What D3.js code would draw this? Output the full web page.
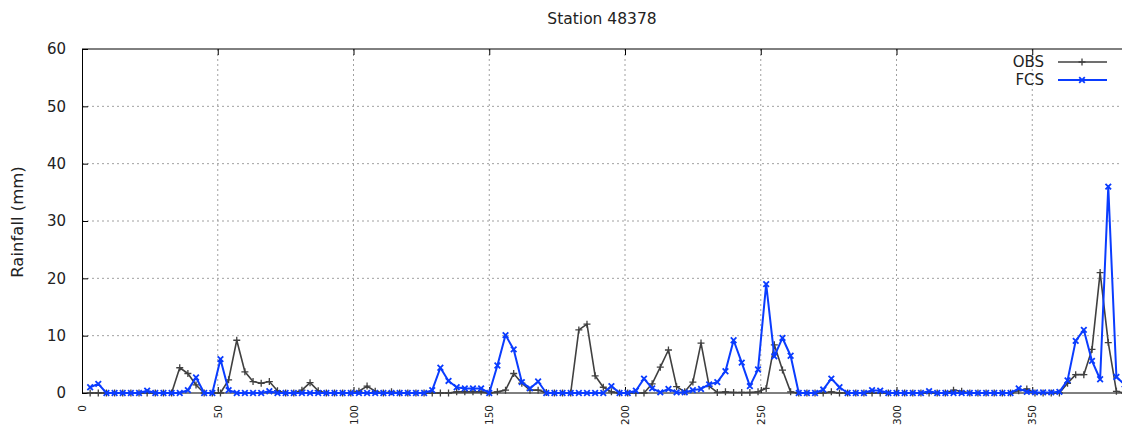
<!DOCTYPE html>
<html>
<head>
<meta charset="utf-8">
<script src="https://cdn.jsdelivr.net/npm/d3@7"></script>
<style>
  html, body { margin: 0; padding: 0; background: #fff; }
  svg { display: block; font-family: "DejaVu Sans", sans-serif; }
</style>
</head>
<body>
<svg id="chart" width="1122" height="427"></svg>
<script>
// ---- data ----
const title = "Station 48378";
const yLabel = "Rainfall (mm)";
const seriesNames = ["OBS", "FCS"];
const xTicks = [0, 50, 100, 150, 200, 250, 300, 350];
const yTicks = [0, 10, 20, 30, 40, 50, 60];
const days = [3,6,9,12,15,18,21,24,27,30,33,36,39,42,45,48,51,54,57,60,63,66,69,72,75,78,81,84,87,90,
  93,96,99,102,105,108,111,114,117,120,123,126,129,132,135,138,141,144,147,150,153,156,159,162,165,168,171,174,177,180,
  183,186,189,192,195,198,201,204,207,210,213,216,219,222,225,228,231,234,237,240,243,246,249,252,255,258,261,264,267,270,
  273,276,279,282,285,288,291,294,297,300,303,306,309,312,315,318,321,324,327,330,333,336,339,342,345,348,351,354,357,360,
  363,366,369,372,375,378,381,384];
const obs = [0,0,0,0,0,0,0,0,0,0, 0,4.4,3.4,1.4,0,0,0,2.3,9.2,3.7,
  2.0,1.7,2.0,0.4,0,0,0.5,1.8,0.4,0, 0,0,0,0.3,1.2,0.3,0,0.2,0,0,
  0,0,0,0,0,0.2,0.2,0.2,0.2,0, 0.2,0.5,3.4,1.7,0.5,0.5,0.1,0,0,0,
  11.0,12.0,3.0,1.0,0.2,0,0,0,0,1.6, 4.5,7.5,1.1,0.2,1.9,8.7,1.2,0.1,0.2,0.1,
  0.1,0.1,0.2,0.8,8.4,4.0,0.2,0,0,0, 0,0.2,0,0,0,0,0,0,0,0,
  0,0,0,0,0,0,0.5,0.3,0,0, 0,0,0,0,0.4,0.7,0,0,0,0,
  1.7,3.2,3.2,7.6,21.0,8.8,0.3,0];
const fcs = [1.0,1.6,0,0,0,0,0,0.4,0,0, 0,0,0.5,2.7,0,0,5.9,0.5,0,0,
  0,0,0.3,0,0,0,0,0,0,0, 0,0,0,0,0,0,0,0,0,0,
  0,0,0.5,4.4,2.1,1.0,0.8,0.8,0.8,0, 4.8,10.1,7.6,1.9,0.8,2.0,0,0,0,0,
  0,0,0,0,1.2,0,0,0.4,2.5,0.8, 0.1,0.7,0.1,0.1,0.5,0.7,1.5,1.9,3.8,9.2,
  5.3,1.2,4.1,19.0,6.4,9.6,6.5,0,0,0, 0.6,2.5,1.0,0,0,0,0.5,0.4,0,0,
  0,0,0,0.3,0,0,0,0,0,0, 0,0,0,0,0.8,0.2,0.1,0.1,0.1,0.2,
  2.2,9.1,11.0,5.6,2.4,36.0,2.8,1.5];

// ---- layout ----
const svg = d3.select("#chart");
const L = 82, T = 49, B = 393;
const x = d3.scaleLinear().domain([0, 384]).range([L, L + 384 * 2.715]);
const y = d3.scaleLinear().domain([0, 60]).range([B, T]);
const R = x(384);

// grid
const grid = svg.append("g");
yTicks.filter(v => v > 0 && v < 60).forEach(v => {
  grid.append("line").attr("x1", L).attr("x2", R).attr("y1", y(v)).attr("y2", y(v))
    .attr("stroke", "#a0a0a0").attr("stroke-width", 1).attr("stroke-dasharray", "2,3");
});
xTicks.filter(v => v > 0).forEach(v => {
  grid.append("line").attr("x1", x(v)).attr("x2", x(v)).attr("y1", T).attr("y2", B)
    .attr("stroke", "#a0a0a0").attr("stroke-width", 1).attr("stroke-dasharray", "2,3");
});

// axes (ticks inward, mirrored)
const yAxis = d3.axisLeft(y).tickValues(yTicks).tickSize(-6).tickPadding(16).tickFormat(d3.format("d"));
const gy = svg.append("g").attr("transform", `translate(${L},0)`).call(yAxis);
gy.select(".domain").attr("stroke", "#000");
gy.selectAll("text").attr("font-size", 15).attr("fill", "#222").attr("font-family", "DejaVu Sans");

const xAxis = d3.axisBottom(x).tickValues(xTicks).tickSize(-6).tickFormat(d3.format("d"));
const gx = svg.append("g").attr("transform", `translate(0,${B})`).call(xAxis);
gx.select(".domain").remove();
gx.selectAll("text").attr("font-size", 10.5).attr("fill", "#222").attr("font-family", "DejaVu Sans")
  .attr("transform", "rotate(-90)").attr("text-anchor", "end").attr("x", -12).attr("y", 0).attr("dy", "0.35em");

const xTop = d3.axisTop(x).tickValues(xTicks).tickSize(-6).tickFormat("");
const gt = svg.append("g").attr("transform", `translate(0,${T})`).call(xTop);
gt.select(".domain").remove();

// borders
svg.append("line").attr("x1", L).attr("x2", R).attr("y1", T).attr("y2", T).attr("stroke", "#000");
svg.append("line").attr("x1", L).attr("x2", R).attr("y1", B).attr("y2", B).attr("stroke", "#000");

// lines
const colors = { OBS: "#404040", FCS: "#0a3cff" };
const widths = { OBS: 1.6, FCS: 2 };
const data = { OBS: obs, FCS: fcs };
const line = d3.line().x(d => x(d[0])).y(d => y(d[1]));

function plusPath(s) { return `M${-s},0H${s}M0,${-s}V${s}`; }
function crossPath(s) { return `M${-s},${-s}L${s},${s}M${-s},${s}L${s},${-s}`; }

seriesNames.forEach(name => {
  const pts = days.map((d, i) => [d, data[name][i]]);
  svg.append("path").datum(pts).attr("d", line).attr("fill", "none")
    .attr("stroke", colors[name]).attr("stroke-width", widths[name]).attr("stroke-linejoin", "round");
  svg.append("g").selectAll("path").data(pts).join("path")
    .attr("transform", d => `translate(${x(d[0])},${y(d[1])})`)
    .attr("d", name === "OBS" ? plusPath(3.5) : crossPath(2.8))
    .attr("fill", "none").attr("stroke", colors[name]).attr("stroke-width", name === "OBS" ? 1.3 : 1.8);
});

// legend
seriesNames.forEach((name, i) => {
  const ly = 62 + i * 18;
  svg.append("text").attr("x", 1044).attr("y", ly).attr("dy", "0.35em").attr("text-anchor", "end")
    .attr("font-size", 15).attr("fill", "#222").text(name);
  svg.append("line").attr("x1", 1058).attr("x2", 1107).attr("y1", ly).attr("y2", ly)
    .attr("stroke", colors[name]).attr("stroke-width", widths[name]);
  svg.append("path").attr("transform", `translate(1082,${ly})`)
    .attr("d", name === "OBS" ? plusPath(3.5) : crossPath(2.8))
    .attr("fill", "none").attr("stroke", colors[name]).attr("stroke-width", name === "OBS" ? 1.3 : 1.8);
});

// title & y label
svg.append("text").attr("x", 602).attr("y", 19).attr("dy", "0.35em").attr("text-anchor", "middle")
  .attr("font-size", 15.5).attr("fill", "#222").text(title);
svg.append("text").attr("transform", `translate(17,222) rotate(-90)`).attr("dy", "0.35em")
  .attr("text-anchor", "middle").attr("font-size", 16.5).attr("fill", "#222").text(yLabel);
</script>
</body>
</html>
